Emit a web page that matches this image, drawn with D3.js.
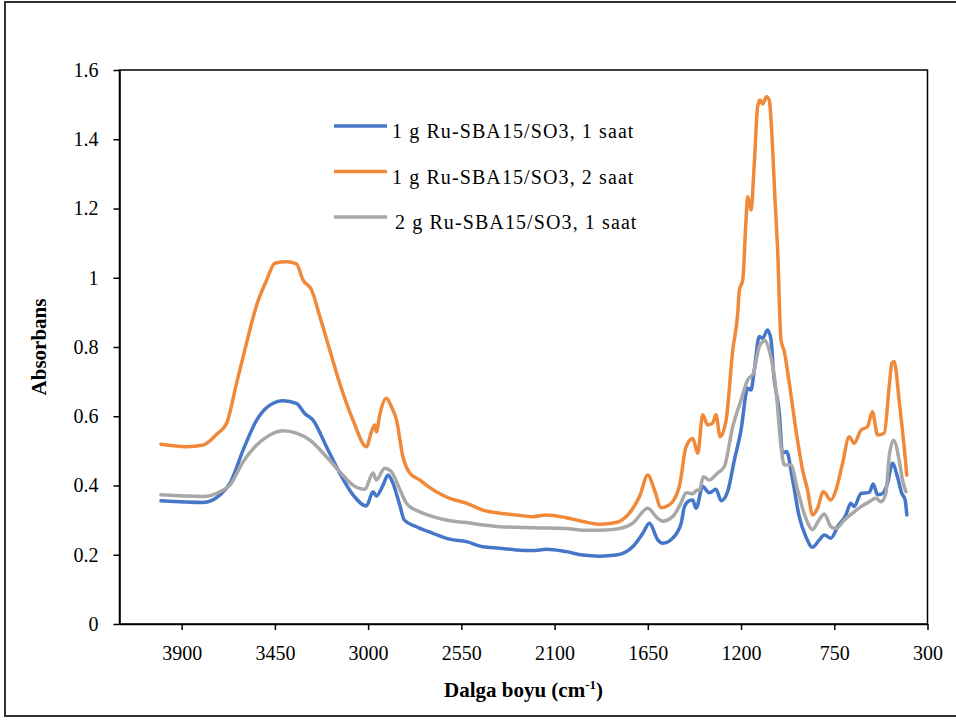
<!DOCTYPE html>
<html>
<head>
<meta charset="utf-8">
<script src="https://cdn.jsdelivr.net/npm/d3@7"></script>
<style>
  body { margin: 0; background: #fff; }
  svg { display: block; font-family: "Liberation Serif", serif; }
  .axis path, .axis line { stroke: #000; stroke-width: 1.5; }
</style>
</head>
<body>
<svg id="chart"></svg>
<script>
// series names (legend order)
const seriesNames = ['1 g Ru-SBA15/SO3, 1 saat', '1 g Ru-SBA15/SO3, 2 saat', '2 g Ru-SBA15/SO3, 1 saat'];

// wavenumbers (cm-1) and absorbance
const wave1 = [4000,3796,3715,3667,3603,3538,3474,3410,3346,3306,3266,3201,3137,3073,3008,2976,2960,2928,2904,2880,2848,2825,2767,2687,2606,2526,2446,2365,2285,2205,2140,2044,1964,1883,1803,1723,1674,1642,1602,1578,1530,1489,1473,1449,1433,1417,1385,1353,1321,1296,1265,1232,1200,1168,1152,1136,1112,1096,1072,1055,1044,1015,1000,980,951,919,887,855,822,798,766,734,694,670,654,621,581,562,541,517,493,469,445,424,408,400];
const abs1 = [0.356,0.351,0.373,0.406,0.503,0.589,0.632,0.645,0.637,0.608,0.589,0.512,0.436,0.373,0.341,0.382,0.370,0.401,0.430,0.406,0.345,0.300,0.281,0.262,0.245,0.238,0.223,0.219,0.214,0.212,0.216,0.209,0.199,0.196,0.199,0.223,0.262,0.291,0.243,0.233,0.248,0.291,0.339,0.356,0.358,0.334,0.397,0.379,0.389,0.356,0.382,0.474,0.560,0.681,0.676,0.734,0.830,0.825,0.849,0.820,0.730,0.608,0.493,0.498,0.416,0.310,0.252,0.222,0.243,0.257,0.248,0.281,0.315,0.349,0.339,0.377,0.380,0.404,0.373,0.377,0.406,0.464,0.425,0.377,0.358,0.315];

const wave2 = [4000,3876,3796,3731,3683,3635,3587,3538,3490,3450,3394,3346,3314,3273,3233,3185,3137,3073,3008,2984,2968,2960,2944,2912,2888,2863,2832,2799,2751,2719,2671,2606,2526,2446,2365,2285,2205,2140,2044,1964,1883,1803,1739,1690,1650,1618,1586,1546,1498,1465,1433,1409,1385,1361,1337,1321,1301,1272,1240,1216,1208,1192,1176,1168,1152,1136,1120,1108,1096,1077,1064,1048,1036,1024,1007,991,967,935,903,879,855,831,803,766,742,710,678,654,621,590,566,541,509,485,472,461,437,421,408,400];
const abs2 = [0.519,0.512,0.517,0.548,0.580,0.695,0.811,0.921,0.993,1.042,1.046,1.040,0.993,0.965,0.888,0.791,0.695,0.589,0.512,0.555,0.575,0.555,0.604,0.652,0.628,0.589,0.483,0.436,0.416,0.401,0.382,0.363,0.349,0.329,0.320,0.315,0.310,0.315,0.307,0.296,0.288,0.293,0.320,0.368,0.430,0.387,0.336,0.344,0.397,0.512,0.536,0.493,0.604,0.575,0.580,0.604,0.541,0.589,0.791,0.897,0.965,0.993,1.167,1.234,1.196,1.330,1.494,1.513,1.502,1.523,1.513,1.378,1.225,1.090,0.820,0.786,0.695,0.560,0.445,0.387,0.315,0.334,0.382,0.358,0.387,0.464,0.541,0.522,0.560,0.570,0.613,0.546,0.551,0.685,0.753,0.758,0.647,0.560,0.483,0.430];

const wave3 = [4000,3796,3715,3667,3603,3538,3474,3410,3346,3281,3201,3137,3073,3016,2976,2960,2920,2888,2848,2815,2799,2751,2687,2606,2526,2446,2365,2205,2044,1964,1883,1803,1723,1650,1602,1578,1530,1490,1465,1433,1412,1401,1382,1353,1313,1281,1240,1200,1168,1141,1112,1096,1088,1064,1031,1007,991,959,927,887,855,826,798,766,742,702,662,621,581,549,525,501,485,464,437,421,404];
const abs3 = [0.373,0.368,0.382,0.401,0.469,0.517,0.546,0.558,0.551,0.531,0.483,0.440,0.401,0.389,0.436,0.416,0.450,0.440,0.390,0.349,0.339,0.324,0.310,0.298,0.293,0.286,0.281,0.278,0.276,0.271,0.271,0.274,0.291,0.334,0.305,0.297,0.310,0.349,0.379,0.376,0.387,0.385,0.425,0.416,0.436,0.454,0.570,0.647,0.705,0.724,0.801,0.815,0.820,0.791,0.676,0.512,0.459,0.459,0.387,0.305,0.273,0.298,0.318,0.281,0.276,0.300,0.320,0.339,0.353,0.363,0.353,0.377,0.483,0.531,0.474,0.416,0.382];

// axis ticks
const xTicks = [3900, 3450, 3000, 2550, 2100, 1650, 1200, 750, 300];
const yTicks = [0, 0.2, 0.4, 0.6, 0.8, 1, 1.2, 1.4, 1.6];

class SpectrumChart {

  constructor(_config) {
    this.config = {
      parentElement: _config.parentElement,
      containerWidth: 956,
      containerHeight: 720,
      margin: { top: 70, bottom: 96, right: 28.5, left: 119.5 },
      colors: ['#4676c9', '#f08a3a', '#a8a8a8']
    };
    this.initVis();
  }

  initVis() {
    let vis = this;

    vis.width = vis.config.containerWidth - vis.config.margin.left - vis.config.margin.right;
    vis.height = vis.config.containerHeight - vis.config.margin.top - vis.config.margin.bottom;

    vis.svg = d3.select(vis.config.parentElement)
        .attr('width', vis.config.containerWidth)
        .attr('height', vis.config.containerHeight);

    // outer chart border
    vis.svg.append('rect')
        .attr('x', 5).attr('y', 2)
        .attr('width', 970).attr('height', 714)
        .attr('fill', 'none')
        .attr('stroke', '#333')
        .attr('stroke-width', 2);

    vis.chart = vis.svg.append('g')
        .attr('transform', `translate(${vis.config.margin.left},${vis.config.margin.top})`);

    // reversed wavenumber axis, Excel style
    vis.xScale = d3.scaleLinear().domain([4200, 300]).range([0, vis.width]);
    vis.yScale = d3.scaleLinear().domain([0, 1.6]).range([vis.height, 0]);

    vis.xAxis = d3.axisBottom(vis.xScale)
        .tickValues(xTicks)
        .tickSize(6)
        .tickSizeOuter(0)
        .tickPadding(16)
        .tickFormat(d => d);

    vis.yAxis = d3.axisLeft(vis.yScale)
        .tickValues(yTicks)
        .tickSize(6)
        .tickSizeOuter(0)
        .tickPadding(15)
        .tickFormat(d => d);

    // plot area frame
    vis.chart.append('rect')
        .attr('width', vis.width)
        .attr('height', vis.height)
        .attr('fill', 'none')
        .attr('stroke', '#000')
        .attr('stroke-width', 1.5);

    vis.xAxisG = vis.chart.append('g')
        .attr('class', 'axis x-axis')
        .attr('transform', `translate(0,${vis.height})`)
        .call(vis.xAxis)
        .attr('font-family', '"Liberation Serif", serif')
        .attr('font-size', 20);

    vis.yAxisG = vis.chart.append('g')
        .attr('class', 'axis y-axis')
        .call(vis.yAxis)
        .attr('font-family', '"Liberation Serif", serif')
        .attr('font-size', 20);

    vis.chart.selectAll('.axis text')
        .style('font-family', '"Liberation Serif", serif')
        .style('fill', '#000');

    // axis titles
    let xTitle = vis.svg.append('text')
        .attr('x', vis.config.margin.left + vis.width / 2)
        .attr('y', 697)
        .style('text-anchor', 'middle')
        .style('font-weight', 'bold')
        .style('font-size', '21px')
        .text('Dalga boyu (cm');
    xTitle.append('tspan').attr('dy', -8).style('font-size', '13px').text('-1');
    xTitle.append('tspan').attr('dy', 8).text(')');

    vis.svg.append('text')
        .attr('transform', `translate(46,${vis.config.margin.top + vis.height / 2}) rotate(-90)`)
        .style('text-anchor', 'middle')
        .style('font-weight', 'bold')
        .style('font-size', '21px')
        .text('Absorbans');

    vis.renderVis();
  }

  renderVis() {
    let vis = this;

    const series = [
      { name: seriesNames[0], data: wave1.map((w, i) => ({ w: w, a: abs1[i] })) },
      { name: seriesNames[1], data: wave2.map((w, i) => ({ w: w, a: abs2[i] })) },
      { name: seriesNames[2], data: wave3.map((w, i) => ({ w: w, a: abs3[i] })) }
    ];

    const line = d3.line()
        .x(d => vis.xScale(d.w))
        .y(d => vis.yScale(d.a))
        .curve(d3.curveMonotoneX);

    vis.chart.selectAll('.series')
        .data(series)
      .join('path')
        .attr('class', 'series')
        .attr('d', d => line(d.data))
        .attr('fill', 'none')
        .attr('stroke', (d, i) => vis.config.colors[i])
        .attr('stroke-width', 3.5)
        .attr('stroke-linejoin', 'round')
        .attr('stroke-linecap', 'round');

    // legend
    const legendBase = [138, 183.5, 229];
    const legend = vis.svg.selectAll('.legend')
        .data(series)
      .join('g')
        .attr('class', 'legend')
        .attr('transform', (d, i) => `translate(334,${legendBase[i]})`);

    legend.append('line')
        .attr('x1', 0).attr('x2', 53)
        .attr('y1', -12).attr('y2', -12)
        .attr('stroke', (d, i) => vis.config.colors[i])
        .attr('stroke-width', 3.5);

    legend.append('text')
        .attr('x', (d, i) => i === 2 ? 61 : 58)
        .style('font-size', '20px')
        .style('letter-spacing', '1.1px')
        .text(d => d.name);
  }
}

new SpectrumChart({ parentElement: '#chart' });
</script>
</body>
</html>
